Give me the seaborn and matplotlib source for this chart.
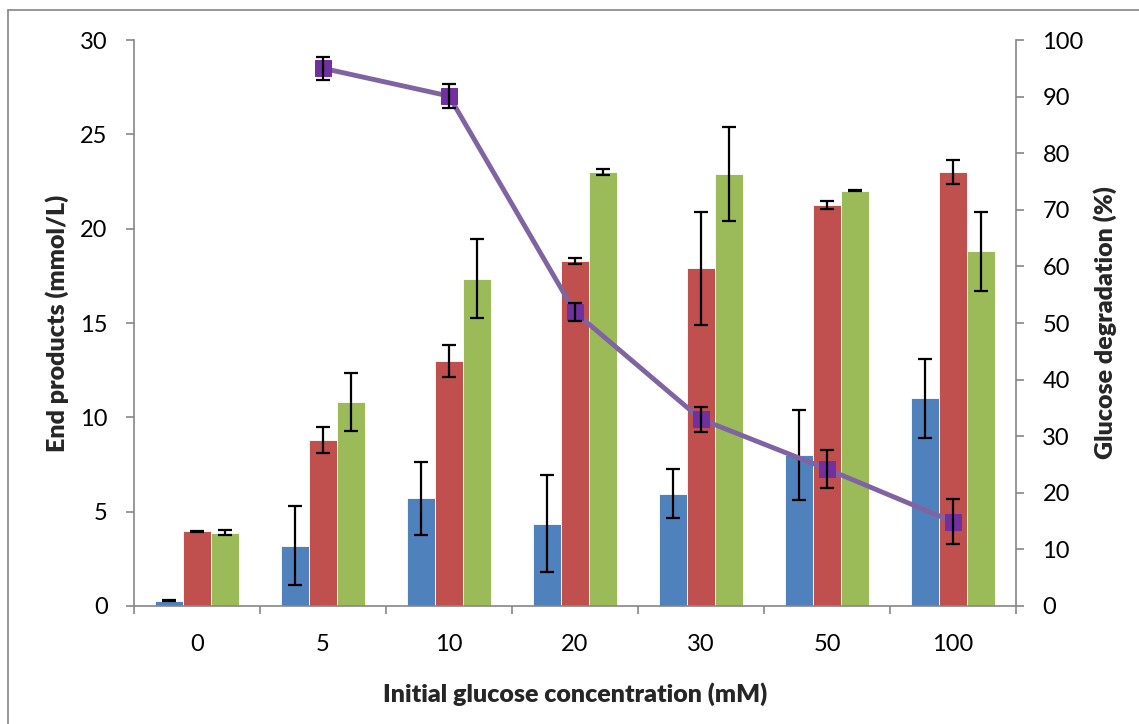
import numpy as np
import pandas as pd
import matplotlib
matplotlib.use("Agg")
import matplotlib.pyplot as plt
import seaborn as sns
from matplotlib.lines import Line2D

# ---------------- data ----------------
categories = ["0", "5", "10", "20", "30", "50", "100"]
series_names = ["Product A", "Product B", "Product C"]

prod_a = [0.28, 3.2, 5.7, 4.35, 5.95, 8.0, 11.0]
prod_a_err = [0.03, 2.1, 1.93, 2.57, 1.3, 2.4, 2.1]
prod_b = [3.95, 8.8, 13.0, 18.3, 17.9, 21.25, 23.0]
prod_b_err = [0.05, 0.67, 0.84, 0.17, 3.0, 0.23, 0.63]
prod_c = [3.88, 10.8, 17.35, 23.0, 22.9, 22.0, 18.8]
prod_c_err = [0.13, 1.53, 2.08, 0.17, 2.5, 0.03, 2.08]

degr_categories = ["5", "10", "20", "30", "50", "100"]
degradation = [95.0, 90.1, 51.9, 33.0, 24.2, 14.9]
degradation_err = [2.0, 2.2, 1.6, 2.2, 3.3, 4.0]

bar_colors = ["#4F81BD", "#C0504D", "#9BBB59"]
line_color = "#8064A2"
marker_color = "#7030A0"
axis_gray = "#868686"

values = [prod_a, prod_b, prod_c]
errors = [prod_a_err, prod_b_err, prod_c_err]

df = pd.DataFrame({
    "conc": np.tile(categories, 3),
    "value": np.concatenate(values),
    "series": np.repeat(series_names, len(categories)),
})

# ---------------- style ----------------
sns.set_theme(style="ticks")
plt.rcParams["font.family"] = ["Lato", "DejaVu Sans"]

TICK_FS = 17
LABEL_FS = 18

W, H = 1139, 724
fig = plt.figure(figsize=(W / 100, H / 100), dpi=100)
left, right, top, bottom = 134, 1016, 40, 606
ax = fig.add_axes([left / W, 1 - bottom / H, (right - left) / W, (bottom - top) / H])

sns.barplot(data=df, x="conc", y="value", hue="series", order=categories,
            hue_order=series_names, palette=bar_colors, saturation=1,
            width=0.667, gap=0, errorbar=None, legend=False, ax=ax,
            edgecolor="white", linewidth=0.6, zorder=2)

for cont, errs in zip(ax.containers, errors):
    for bar, e in zip(cont, errs):
        ax.errorbar(bar.get_x() + bar.get_width() / 2, bar.get_height(), yerr=e,
                    fmt="none", ecolor="black", elinewidth=1.6, capsize=5,
                    capthick=1.6, zorder=3)

ax.set_ylim(0, 30)
ax.set_yticks(range(0, 31, 5))
ax.set_xlim(-0.5, len(categories) - 0.5)
ax.set_xticks(range(len(categories)))
ax.set_xticklabels(categories)
ax.set_xticks(np.arange(-0.5, len(categories), 1.0), minor=True)
ax.tick_params(axis="x", which="major", length=0, labelsize=TICK_FS, pad=20, colors="black")
ax.tick_params(axis="x", which="minor", length=6, width=1.2, color=axis_gray, direction="out")
ax.tick_params(axis="y", length=6, width=1.2, color=axis_gray, labelsize=TICK_FS, pad=13,
               direction="out", labelcolor="black")
for s in ["left", "bottom"]:
    ax.spines[s].set_color(axis_gray)
    ax.spines[s].set_linewidth(1.2)
ax.spines["top"].set_visible(False)
ax.spines["right"].set_visible(False)

ax.set_xlabel("Initial glucose concentration (mM)", fontsize=LABEL_FS, fontweight="heavy")
ax.set_ylabel("End products (mmol/L)", fontsize=LABEL_FS, fontweight="heavy")
ax.xaxis.set_label_coords(0.5, -0.135)
ax.yaxis.set_label_coords(-0.074, 0.5)

# ---------------- secondary axis ----------------
ax2 = ax.twinx()
xpos = [categories.index(c) for c in degr_categories]
line_df = pd.DataFrame({"x": xpos, "y": degradation})
sns.lineplot(data=line_df, x="x", y="y", ax=ax2, color=line_color, lw=3.5,
             marker="s", markersize=11, markerfacecolor=marker_color,
             markeredgecolor=marker_color, zorder=4)
ax2.errorbar(xpos, degradation, yerr=degradation_err, fmt="none", ecolor="black",
             elinewidth=1.6, capsize=5, capthick=1.6, zorder=5)
ax2.set_ylim(0, 100)
ax2.set_yticks(range(0, 101, 10))
ax2.set_xlim(-0.5, len(categories) - 0.5)
ax2.tick_params(axis="y", length=6, width=1.2, color=axis_gray, labelsize=TICK_FS, pad=13,
                direction="out", labelcolor="black")
for s in ["left", "bottom", "top"]:
    ax2.spines[s].set_visible(False)
ax2.spines["right"].set_color(axis_gray)
ax2.spines["right"].set_linewidth(1.2)
ax2.set_xlabel("")
ax2.set_ylabel("Glucose degradation (%)", fontsize=LABEL_FS, fontweight="heavy")
ax2.yaxis.set_label_coords(1.088, 0.5)

# chart border (left and top edges visible in reference)
fig.add_artist(Line2D([7.5 / W, 7.5 / W], [0, 1 - 10 / H], transform=fig.transFigure,
                      color=axis_gray, lw=1.2))
fig.add_artist(Line2D([7.5 / W, 1], [1 - 10 / H, 1 - 10 / H], transform=fig.transFigure,
                      color=axis_gray, lw=1.2))

fig.savefig("out.png", dpi=100)
